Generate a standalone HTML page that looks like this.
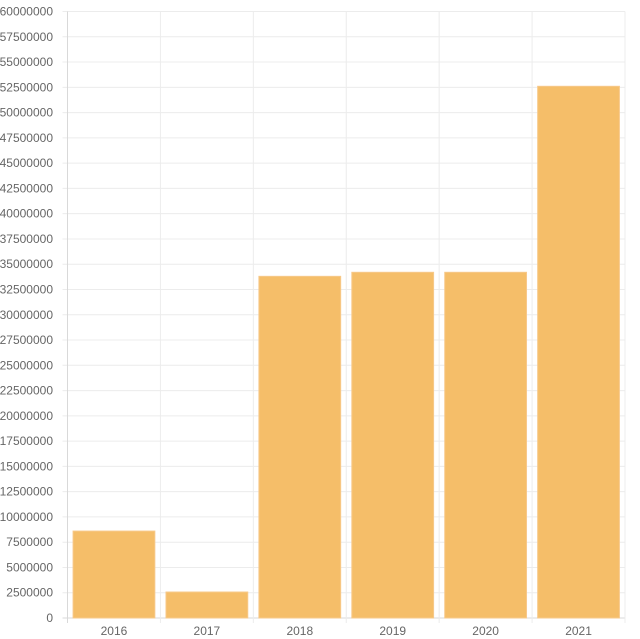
<!DOCTYPE html>
<html><head><meta charset="utf-8"><style>
html,body{margin:0;padding:0;background:#fff;}
svg{display:block;font-family:"Liberation Sans",sans-serif;}
</style></head><body>
<svg id="chart" width="640" height="639" xmlns="http://www.w3.org/2000/svg"></svg>
<script>
const categories = ["2016","2017","2018","2019","2020","2021"];
const values = [8600000, 2570000, 33800000, 34200000, 34200000, 52600000];
const yTicks = [0,2500000,5000000,7500000,10000000,12500000,15000000,17500000,20000000,22500000,25000000,27500000,30000000,32500000,35000000,37500000,40000000,42500000,45000000,47500000,50000000,52500000,55000000,57500000,60000000];

const svg = document.getElementById('chart');
const NS = 'http://www.w3.org/2000/svg';
const L = 67.5, R = 625, T = 11.5, B = 618, YMAX = 60000000;
const band = (R - L) / categories.length;
const y = v => B - (v / YMAX) * (B - T);
const x = i => L + i * band;
function mk(tag, attrs){const e=document.createElementNS(NS,tag);for(const k in attrs)e.setAttribute(k,attrs[k]);svg.appendChild(e);return e;}

yTicks.forEach(t=>{
  const g = mk('line',{x1:L-5,x2:R,y1:y(t),y2:y(t),stroke:t===0?'#d9d9d9':'#ececec','stroke-width':1});
  
  
  const tx = mk('text',{x:53,y:y(t)+4,'text-anchor':'end','font-size':12,fill:'#666'});
  tx.textContent = t;
  
  
});
for(let i=0;i<=categories.length;i++){
  const g = mk('line',{x1:x(i),x2:x(i),y1:T,y2:B+5,stroke:i===0?'#d9d9d9':'#ececec','stroke-width':1});
  
  
}
categories.forEach((c,i)=>{
  const bw = band*0.88;
  const bx = x(i) + (band-bw)/2;
  const r = mk('rect',{x:bx,y:y(values[i]),width:bw,height:B-y(values[i]),fill:'#f5be69',stroke:'#f7c98a','stroke-width':1});
  
  
  const tx = mk('text',{x:x(i)+band/2,y:635,'text-anchor':'middle','font-size':12,fill:'#666'});
  tx.textContent = c;
  
  
});
</script>
</body></html>
